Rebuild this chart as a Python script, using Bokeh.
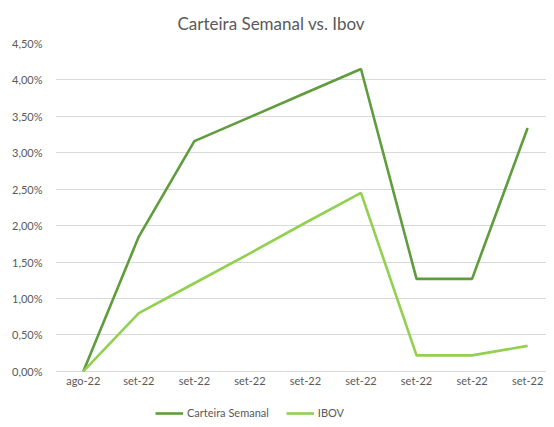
from bokeh.plotting import figure
from bokeh.models import ColumnDataSource, Legend, LegendItem, FixedTicker, Range1d, CustomJSTickFormatter
from bokeh.embed import file_html
from bokeh.resources import INLINE

categories = ["ago-22", "set-22", "set-22", "set-22", "set-22", "set-22", "set-22", "set-22", "set-22"]
carteira = [0.0, 1.85, 3.16, 3.49, 3.82, 4.15, 1.27, 1.27, 3.34]
ibov = [0.0, 0.80, 1.21, 1.62, 2.04, 2.45, 0.22, 0.22, 0.35]
y_ticks = [0.0, 0.5, 1.0, 1.5, 2.0, 2.5, 3.0, 3.5, 4.0, 4.5]

xs = list(range(len(categories)))
src = ColumnDataSource(dict(x=xs, carteira=carteira, ibov=ibov))

FONT = "Lato"
GREY = "#595959"

p = figure(width=546, height=419, output_backend="svg", toolbar_location=None,
           x_range=Range1d(-0.5, 8.34), y_range=Range1d(-0.66, 4.5),
           min_border_left=55, min_border_right=0, min_border_top=8, min_border_bottom=0)
p.title.text = "Carteira Semanal vs. Ibov"
p.title.align = "left"
p.title.offset = 122
p.title.text_font = FONT
p.title.text_font_size = "17px"
p.title.text_font_style = "normal"
p.title.text_color = GREY
p.title.standoff = 20

p.outline_line_color = None
p.background_fill_color = "white"
p.border_fill_color = "white"

r1 = p.line("x", "carteira", source=src, line_color="#5E9C3C", line_width=2.6)
r2 = p.line("x", "ibov", source=src, line_color="#92D050", line_width=2.6)

p.xgrid.grid_line_color = None
p.ygrid.grid_line_color = "#D9D9D9"
p.ygrid.grid_line_width = 1.2
p.yaxis.ticker = FixedTicker(ticks=y_ticks)
p.yaxis.formatter = CustomJSTickFormatter(code="return tick.toFixed(2).replace('.', ',') + '%';")
p.xaxis.ticker = FixedTicker(ticks=xs)
p.xaxis.major_label_overrides = {i: c for i, c in enumerate(categories)}
p.xaxis.fixed_location = 0

for ax in (p.xaxis[0], p.yaxis[0]):
    ax.axis_line_color = None
    ax.major_tick_line_color = None
    ax.minor_tick_line_color = None
    ax.major_tick_out = 0
    ax.major_tick_in = 0
    ax.minor_tick_out = 0
    ax.major_label_text_font = FONT
    ax.major_label_text_font_size = "11px"
    ax.major_label_text_color = GREY
p.xaxis.major_label_standoff = 3
p.yaxis.major_label_standoff = 13

legend = Legend(items=[LegendItem(label="Carteira Semanal", renderers=[r1]),
                       LegendItem(label="IBOV", renderers=[r2])],
                orientation="horizontal", location=(100, 0),
                border_line_color=None, background_fill_alpha=0,
                label_text_font=FONT, label_text_font_size="11px", label_text_color=GREY,
                glyph_width=28, glyph_height=12, label_height=12, spacing=17, padding=0, margin=0,
                label_standoff=4)
p.add_layout(legend, "center")

open("out.html", "w").write(file_html(p, INLINE))
